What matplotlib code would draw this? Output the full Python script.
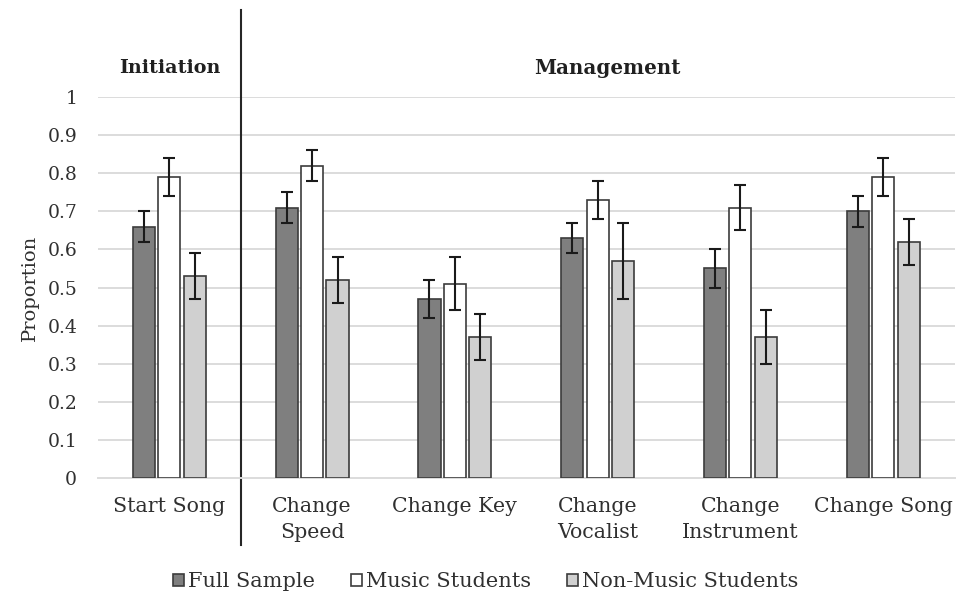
import matplotlib
matplotlib.use("Agg")
from matplotlib import pyplot as plt
from matplotlib.patches import Patch
import numpy as np

plt.rcParams['font.family'] = ['DejaVu Serif', 'Liberation Serif']

# categories and series
categories = ["Start Song", "Change\nSpeed", "Change Key", "Change\nVocalist",
              "Change\nInstrument", "Change Song"]
series_names = ["Full Sample", "Music Students", "Non-Music Students"]

full = [0.66, 0.71, 0.47, 0.63, 0.55, 0.70]
full_lo = [0.62, 0.67, 0.42, 0.59, 0.50, 0.66]
full_hi = [0.70, 0.75, 0.52, 0.67, 0.60, 0.74]

music = [0.79, 0.82, 0.51, 0.73, 0.71, 0.79]
music_lo = [0.74, 0.78, 0.44, 0.68, 0.65, 0.74]
music_hi = [0.84, 0.86, 0.58, 0.78, 0.77, 0.84]

nonmusic = [0.53, 0.52, 0.37, 0.57, 0.37, 0.62]
nonmusic_lo = [0.47, 0.46, 0.31, 0.47, 0.30, 0.56]
nonmusic_hi = [0.59, 0.58, 0.43, 0.67, 0.44, 0.68]

yticks = [0, 0.1, 0.2, 0.3, 0.4, 0.5, 0.6, 0.7, 0.8, 0.9, 1]
ytick_labels = ["0", "0.1", "0.2", "0.3", "0.4", "0.5", "0.6", "0.7", "0.8", "0.9", "1"]

colors = ["#7f7f7f", "#ffffff", "#d0d0d0"]
edge = "#3c3c3c"
txt = "#303030"

fig = plt.figure(figsize=(9.56, 5.98), dpi=100)
ax = fig.add_axes([0.1025, 0.2007, 0.896, 0.637])

x = np.arange(len(categories))
width = 0.155
step = 0.178
groups = [(full, full_lo, full_hi), (music, music_lo, music_hi),
          (nonmusic, nonmusic_lo, nonmusic_hi)]
for i, (vals, lo, hi) in enumerate(groups):
    vals = np.array(vals)
    err = [vals - np.array(lo), np.array(hi) - vals]
    pos = x + (i - 1) * step
    ax.bar(pos, vals, width, color=colors[i], edgecolor=edge, linewidth=1.2,
           zorder=3, label=series_names[i])
    ax.errorbar(pos, vals, yerr=err, fmt="none", ecolor="#1a1a1a",
                elinewidth=1.5, capsize=4, capthick=1.5, zorder=4)

ax.set_xlim(-0.5, len(categories) - 0.5)
ax.set_ylim(0, 1)
ax.set_yticks(yticks)
ax.set_yticklabels(ytick_labels)
ax.set_xticks(x)
ax.set_xticklabels(categories, linespacing=1.5, fontsize=14.8)
ax.yaxis.grid(True, color="#dcdcdc", linewidth=1.4, zorder=0)
ax.set_axisbelow(True)
for s in ["top", "right", "left"]:
    ax.spines[s].set_visible(False)
ax.spines["bottom"].set_color("#dcdcdc")
ax.spines["bottom"].set_linewidth(1.4)
ax.tick_params(axis="both", length=0, colors=txt)
ax.tick_params(axis="y", pad=15, labelsize=13.5)
ax.tick_params(axis="x", pad=13.5)
ax.set_ylabel("Proportion", fontsize=14, color=txt, labelpad=6)

# separator between initiation and management
trans = ax.get_xaxis_transform()
ax.plot([0.5, 0.5], [1.228, -0.176], transform=trans, color="#262626",
        linewidth=1.5, clip_on=False)
ax.text(0, 1.075, "Initiation", transform=trans, ha="center", va="center",
        fontsize=13.8, fontweight="bold", color="#202020")
ax.text(3.07, 1.075, "Management", transform=trans, ha="center", va="center",
        fontsize=14.3, fontweight="bold", color="#202020")

handles = [Patch(facecolor=colors[i], edgecolor=edge, linewidth=1.2,
                 label=series_names[i]) for i in range(3)]
fig.legend(handles=handles, loc="center", bbox_to_anchor=(0.508, 0.027),
           ncol=3, frameon=False, fontsize=15, handlelength=0.55,
           handleheight=0.55, handletextpad=0.2, columnspacing=1.7,
           labelcolor=txt)

fig.savefig("out.png", dpi=100)
